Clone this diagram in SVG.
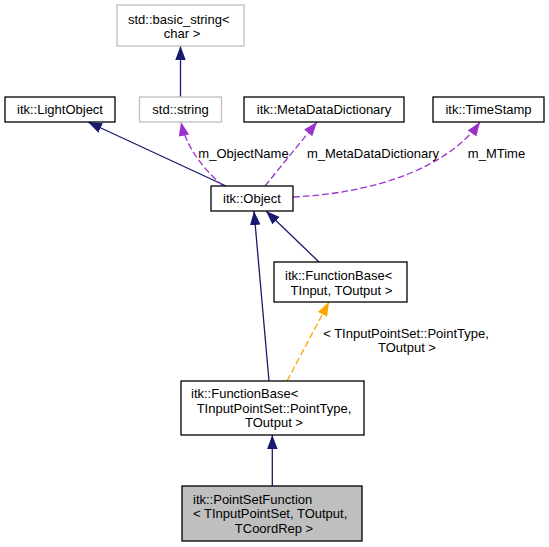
<svg xmlns="http://www.w3.org/2000/svg" width="549" height="547" viewBox="0 0 549 547">
<style>
  text { font-family: "Liberation Sans", Arial, Helvetica, sans-serif; font-size: 13px; fill: #000; }
  .m { text-anchor: middle; }
  .box { fill: #fff; stroke: #000; stroke-width: 1.3; }
  .ubox { fill: #fff; stroke: #bfbfbf; stroke-width: 1.3; }
  .cur { fill: #bfbfbf; stroke: #000; stroke-width: 1.3; }
  .inh { fill: none; stroke: #191970; stroke-width: 1.3; marker-end: url(#ab); }
  .use { fill: none; stroke: #9a32cd; stroke-width: 1.3; stroke-dasharray: 6.7,3; marker-end: url(#ap); }
  .tpl { fill: none; stroke: #ffa500; stroke-width: 1.3; stroke-dasharray: 6.7,3; marker-end: url(#ao); }
</style>
<defs>
  <marker id="ab" markerUnits="userSpaceOnUse" markerWidth="16" markerHeight="12" refX="14" refY="5.25" orient="auto"><path d="M0,0 L14,5.25 L0,10.5 z" fill="#191970"/></marker>
  <marker id="ap" markerUnits="userSpaceOnUse" markerWidth="16" markerHeight="12" refX="14" refY="5.25" orient="auto"><path d="M0,0 L14,5.25 L0,10.5 z" fill="#9a32cd"/></marker>
  <marker id="ao" markerUnits="userSpaceOnUse" markerWidth="16" markerHeight="12" refX="14" refY="5.25" orient="auto"><path d="M0,0 L14,5.25 L0,10.5 z" fill="#ffa500"/></marker>
</defs>
<g id="edges">
  <path class="inh" d="M180.5,97 L180.5,46"/>
  <path class="inh" d="M226,186 L88,122"/>
  <path class="use" d="M223,186 C205,170 187,150 181,122"/>
  <text class="m" x="243.5" y="157.5">m_ObjectName</text>
  <path class="use" d="M265,186 L317,122"/>
  <text class="m" x="373" y="157.5">m_MetaDataDictionary</text>
  <path class="use" d="M293,197 C380,193 450,165 480,122"/>
  <text class="m" x="496.5" y="157.5">m_MTime</text>
  <path class="inh" d="M269,381 L254,211"/>
  <path class="inh" d="M319,262 L266,211"/>
  <path class="tpl" d="M287,381 L329,302"/>
  <text class="m" x="406" y="337.5">&lt; TInputPointSet::PointType,</text>
  <text class="m" x="407" y="352">TOutput &gt;</text>
  <path class="inh" d="M272.3,486 L272.3,435"/>
</g>
<g id="basic_string">
  <rect class="ubox" x="117" y="5" width="127" height="41"/>
  <text x="128" y="23.5">std::basic_string&lt;</text>
  <text class="m" x="182" y="38">char &gt;</text>
</g>
<g id="LightObject">
  <rect class="box" x="5" y="97" width="110" height="25"/>
  <text class="m" x="60" y="114">itk::LightObject</text>
</g>
<g id="string">
  <rect class="ubox" x="139.5" y="97" width="82" height="25"/>
  <text class="m" x="180.5" y="114">std::string</text>
</g>
<g id="MetaDataDictionary">
  <rect class="box" x="244" y="97" width="160" height="25"/>
  <text class="m" x="324" y="114">itk::MetaDataDictionary</text>
</g>
<g id="TimeStamp">
  <rect class="box" x="433" y="97" width="111" height="25"/>
  <text class="m" x="488.5" y="114">itk::TimeStamp</text>
</g>
<g id="Object">
  <rect class="box" x="211" y="186" width="82" height="25"/>
  <text class="m" x="252" y="203">itk::Object</text>
</g>
<g id="FunctionBaseTInput">
  <rect class="box" x="274" y="262" width="133" height="40"/>
  <text x="285" y="280">itk::FunctionBase&lt;</text>
  <text class="m" x="341.5" y="294.5">TInput, TOutput &gt;</text>
</g>
<g id="FunctionBasePointType">
  <rect class="box" x="181" y="381" width="183" height="54"/>
  <text x="191" y="398">itk::FunctionBase&lt;</text>
  <text class="m" x="274" y="412.5">TInputPointSet::PointType,</text>
  <text class="m" x="274" y="427">TOutput &gt;</text>
</g>
<g id="PointSetFunction">
  <rect class="cur" x="182" y="486" width="180" height="55"/>
  <text x="193" y="503.5">itk::PointSetFunction</text>
  <text x="193" y="518">&lt; TInputPointSet, TOutput,</text>
  <text class="m" x="274" y="532.5">TCoordRep &gt;</text>
</g>
</svg>
